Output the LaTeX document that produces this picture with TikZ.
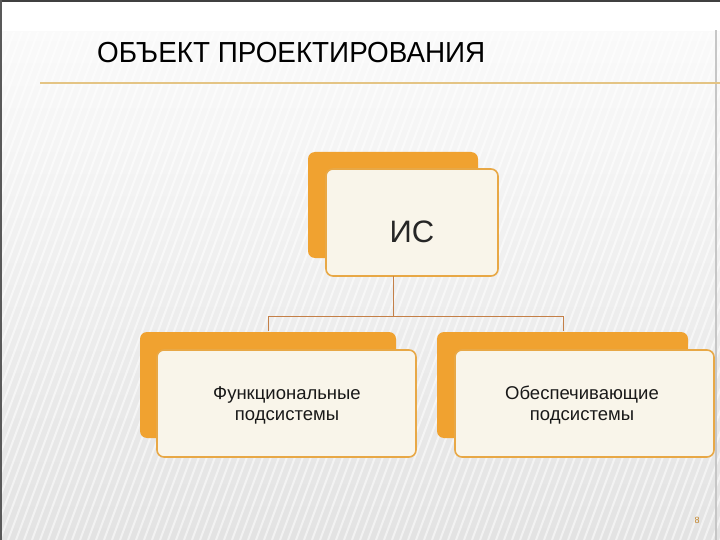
\documentclass[tikz,border=0pt]{standalone}
\usepackage{fontspec}
\setmainfont{Liberation Sans}
\definecolor{orng}{RGB}{240,162,48}
\definecolor{obord}{RGB}{232,168,70}
\definecolor{cream}{RGB}{249,245,234}
\definecolor{conn}{RGB}{196,128,72}
\definecolor{rulec}{RGB}{228,196,132}
\tikzset{
  backbox/.style={fill=orng, rounded corners=7pt},
  frontbox/.style={fill=cream, draw=obord, line width=1.6pt, rounded corners=7pt},
  conline/.style={draw=conn, line width=1pt},
  boxtext/.style={font=\fontsize{18.5}{21}\selectfont, align=center, text=black!90},
}
\begin{document}
\begin{tikzpicture}[x=1pt,y=-1pt]
\useasboundingbox (0,0) rectangle (720,540);
% background
\fill[white] (0,0) rectangle (720,540);
\shade[top color=gray!4, bottom color=gray!22] (0,32) rectangle (720,540);
\begin{scope}
\clip (0,32) rectangle (720,540);
\foreach \i in {-600,-592,...,720} {
  \draw[white, opacity=0.55, line width=2pt] (\i,540) -- (\i+190,32);
}
\end{scope}
\fill[black!75] (0,0) rectangle (720,2);
\fill[black!65] (0,0) rectangle (2,540);
\fill[gray!45] (715,30) rectangle (716.5,540);
% title
\node[anchor=base west, inner sep=0pt, font=\fontsize{29}{31}\selectfont] (title) at (97,63) {\scalebox{0.96}[1]{ОБЪЕКТ ПРОЕКТИРОВАНИЯ}};
\fill[rulec] (40,82.5) rectangle (720,84);
% IS
\fill[backbox] (308,152) rectangle (478,258);
\draw[frontbox] (326,169) rectangle (498,276);
\node (is) at (412,222) {};
\node[font=\fontsize{31}{34}\selectfont, text=black!85] (istext) at (412,232) {ИС};
% children
\fill[backbox] (140,332) rectangle (396,438);
\draw[frontbox] (157,350) rectangle (416,457);
\node[boxtext] (left) at (287,405) {Функциональные\\подсистемы};
\fill[backbox] (437,332) rectangle (688,438);
\draw[frontbox] (455,350) rectangle (714,457);
\node[boxtext] (right) at (582,405) {Обеспечивающие\\подсистемы};
% connectors
\coordinate (isb) at (393,276);
\coordinate (jn) at (393,316.5);
\coordinate (ltop) at (268,331);
\coordinate (rtop) at (563,331);
\draw[conline] (isb) -- (jn);
\draw[conline] (ltop) |- (jn) -| (rtop);
% page number
\node[font=\fontsize{9}{10}\selectfont, text=orng!80!black] (pg) at (697,520) {8};
\end{tikzpicture}
\end{document}
